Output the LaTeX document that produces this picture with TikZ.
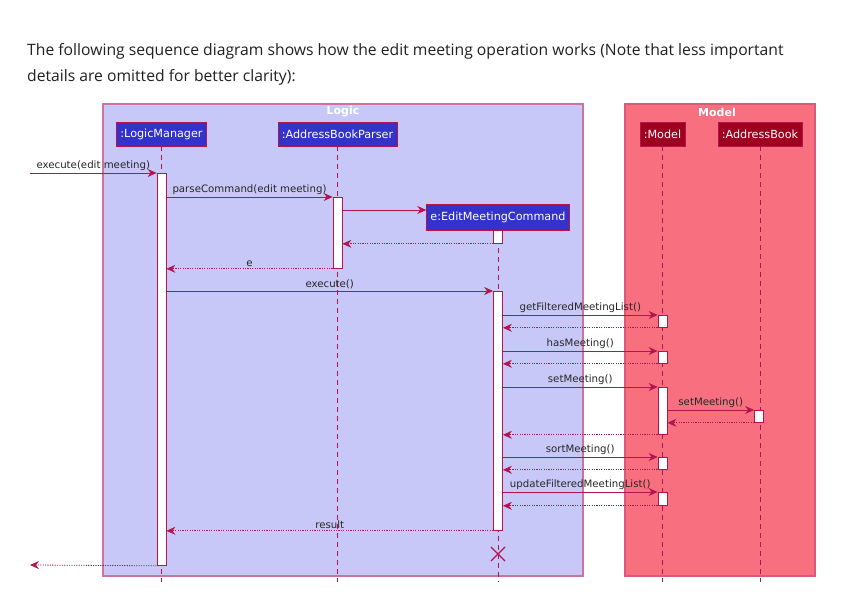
\documentclass[tikz,border=0pt]{standalone}
\usepackage{fontspec}
\setmainfont{DejaVu Sans}
\newfontfamily\titlefont{Open Sans}
\usetikzlibrary{arrows.meta,positioning}
\definecolor{logicfill}{RGB}{200,200,248}
\definecolor{logicline}{RGB}{205,115,155}
\definecolor{modelfill}{RGB}{248,112,128}
\definecolor{modelline}{RGB}{215,90,120}
\definecolor{logicpart}{RGB}{51,51,204}
\definecolor{modelpart}{RGB}{160,0,32}
\definecolor{seqred}{RGB}{178,20,78}
\tikzset{
    title text/.style={font=\titlefont\fontsize{15.7}{19}\selectfont, text=black!87, inner sep=0pt},
    box label/.style={text=white, font=\fontsize{11}{13}\selectfont\bfseries, inner sep=0pt},
    participant/.style={draw=seqred, text=white, font=\fontsize{11.2}{13}\selectfont, minimum height=24pt, inner xsep=4pt, inner ysep=0pt},
    logic participant/.style={participant, fill=logicpart},
    model participant/.style={participant, fill=modelpart},
    lifeline/.style={seqred, dash pattern=on 5pt off 4pt, line width=0.7pt},
    activation/.style={draw=seqred, fill=white, line width=0.8pt, minimum width=9pt, inner sep=0pt, anchor=north},
    arr/.style={->, >={Stealth[length=9pt,width=8pt,inset=3pt]}, seqred, line width=0.8pt},
    rarr/.style={arr, dash pattern=on 1.2pt off 1.2pt},
    msg/.style={font=\fontsize{10.2}{12}\selectfont, text=black!85, inner sep=1.5pt, above},
}

\begin{document}
\begin{tikzpicture}[x=1pt,y=-1pt]
    \useasboundingbox[fill=white] (0,0) rectangle (862,601);

    \node[title text, anchor=base west] (title1) at (27,56)
        {The following sequence diagram shows how the edit meeting operation works (Note that less important};
    \node[title text, anchor=base west] (title2) at (27,82)
        {details are omitted for better clarity):};

    % boxes
    \draw[logicline, fill=logicfill, line width=1.2pt] (103,104) rectangle (583,576);
    \draw[modelline, fill=modelfill, line width=1.2pt] (625,104) rectangle (815,576);
    \node[box label] (logicTitle) at (343,112) {Logic};
    \node[box label] (modelTitle) at (717,112) {Model};

    % participants
    \node[logic participant] (lm) at (161.5,134) {:LogicManager};
    \node[logic participant] (parser) at (337.5,134) {:AddressBookParser};
    \node[model participant] (model) at (662.5,134) {:Model};
    \node[model participant] (ab) at (760,134) {:AddressBook};
    \node[logic participant, minimum height=26pt] (ecm) at (498,217) {e:EditMeetingCommand};

    % lifelines
    \coordinate (lifeEnd) at (0,582);
    \foreach \p in {lm,parser,model,ab,ecm}
        \draw[lifeline] (\p.south) -- (\p.south |- lifeEnd);

    % activations
    \node[activation, minimum height=392pt] (lmAct) at (161.5,173) {};
    \node[activation, minimum height=71pt] (parserAct) at (337.5,197) {};
    \node[activation, minimum height=13pt] (ecmAct1) at (498,230) {};
    \node[activation, minimum height=239pt] (ecmAct2) at (498,291) {};
    \node[activation, minimum height=12pt] (modelAct1) at (662.5,315) {};
    \node[activation, minimum height=12pt] (modelAct2) at (662.5,351) {};
    \node[activation, minimum height=47pt] (modelAct3) at (662.5,387) {};
    \node[activation, minimum height=12pt] (abAct) at (759,410) {};
    \node[activation, minimum height=12pt] (modelAct4) at (662.5,457) {};
    \node[activation, minimum height=13pt] (modelAct5) at (662.5,492) {};

    % messages
    \coordinate (caller) at (30,173);
    \coordinate (callerBack) at (30,565);
    \coordinate (ecmIn) at ([yshift=7pt]ecm.west);
    \draw[arr] (caller) -- (lmAct.north west) node[msg, midway] {execute(edit meeting)};
    \draw[arr] (lmAct.east |- parserAct.north) -- (parserAct.north west)
        node[msg, midway] {parseCommand(edit meeting)};
    \draw[arr] (parserAct.east |- ecmIn) -- (ecmIn);
    \draw[rarr] (ecmAct1.south west) -- (parserAct.east |- ecmAct1.south);
    \draw[rarr] (parserAct.south west) -- (lmAct.east |- parserAct.south) node[msg, midway] {e};
    \draw[arr] (lmAct.east |- ecmAct2.north) -- (ecmAct2.north west) node[msg, midway] {execute()};

    \foreach \act/\txt in {modelAct1/{getFilteredMeetingList()}, modelAct2/{hasMeeting()},
            modelAct3/{setMeeting()}, modelAct4/{sortMeeting()}, modelAct5/{updateFilteredMeetingList()}} {
        \draw[arr] (ecmAct2.east |- \act.north) -- (\act.north west) node[msg, midway] {\txt};
        \draw[rarr] (\act.south west) -- (ecmAct2.east |- \act.south);
    }
    \draw[arr] (modelAct3.east |- abAct.north) -- (abAct.north west) node[msg, midway] {setMeeting()};
    \draw[rarr] (abAct.south west) -- (modelAct3.east |- abAct.south);

    \draw[rarr] (ecmAct2.south west) -- (lmAct.east |- ecmAct2.south) node[msg, midway] {result};
    \draw[rarr] (lmAct.south west) -- (callerBack);

    % destroy
    \coordinate (destroy) at (498,554);
    \draw[seqred, line width=1.3pt] ([shift={(-7,-7)}]destroy) -- ([shift={(7,7)}]destroy)
        ([shift={(-7,7)}]destroy) -- ([shift={(7,-7)}]destroy);
\end{tikzpicture}
\end{document}
